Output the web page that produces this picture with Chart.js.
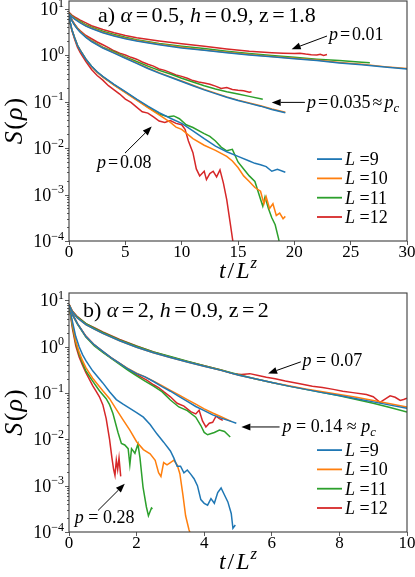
<!DOCTYPE html>
<html>
<head>
<meta charset="utf-8">
<script src="https://cdn.jsdelivr.net/npm/chart.js@4.4.1/dist/chart.umd.min.js"></script>
<style>
  html, body { margin: 0; padding: 0; background: #fff; }
  #wrap { position: relative; width: 415px; height: 577px; }
  canvas { position: absolute; left: 0; }
</style>
</head>
<body>
<div id="wrap">
  <canvas id="panelA" width="415" height="288" style="top:0"></canvas>
  <canvas id="panelB" width="415" height="289" style="top:288px"></canvas>
</div>
<script>
// system sizes and y tick labels (exponents of the decades)
const sizes = [9, 10, 11, 12];
const yDecades = [-4, -3, -2, -1, 0, 1];
const yTickLabels = ['\u22124', '\u22123', '\u22122', '\u22121', '0', '1'];
const xTicksA = [0, 5, 10, 15, 20, 25, 30];
const xTicksB = [0, 2, 4, 6, 8, 10];

// ---- panel a) alpha=0.5 : values are log10 S(rho) ----
// p = 0.01
const a01_t   = [0, 0.25, 0.5, 1, 1.5, 2, 3, 4, 5, 6, 8, 10, 12, 14, 16, 18, 20, 22, 24, 26, 28, 30];
const a01_L9  = [0.88, 0.82, 0.77, 0.69, 0.62, 0.57, 0.48, 0.41, 0.35, 0.30, 0.22, 0.15, 0.10, 0.05, 0.00, -0.04, -0.08, -0.12, -0.17, -0.21, -0.26, -0.30];
const a01_L10 = [0.89, 0.83, 0.78, 0.70, 0.63, 0.58, 0.49, 0.42, 0.36, 0.31, 0.23, 0.165, 0.11, 0.06, 0.01, -0.03, -0.07, -0.11, -0.16, -0.20, -0.25, -0.29];
const a01_t11 = [0, 0.25, 0.5, 1, 1.5, 2, 3, 4, 5, 6, 8, 10, 12, 14, 16, 18, 20, 22, 24, 26, 26.7];
const a01_L11 = [0.90, 0.84, 0.79, 0.72, 0.65, 0.60, 0.51, 0.44, 0.38, 0.33, 0.25, 0.19, 0.14, 0.08, 0.03, -0.01, -0.05, -0.09, -0.12, -0.155, -0.165];
const a01_t12 = [0, 0.25, 0.5, 1, 1.5, 2, 3, 4, 5, 6, 8, 10, 12, 14, 16, 17, 18, 19, 20, 20.5, 21, 21.5, 22, 22.3, 22.6, 22.9];
const a01_L12 = [0.92, 0.86, 0.82, 0.75, 0.69, 0.63, 0.55, 0.48, 0.42, 0.37, 0.30, 0.24, 0.19, 0.13, 0.08, 0.065, 0.05, 0.04, 0.03, 0.04, 0.02, 0.005, 0.0, 0.015, -0.01, 0.01];
// p = 0.035
const a035_t   = [0, 0.25, 0.5, 0.75, 1, 1.5, 2, 3, 4, 5, 6, 7, 8, 9, 10, 11, 12, 13, 14, 15, 16, 17, 18, 19.2];
const a035_L9  = [0.88, 0.74, 0.64, 0.56, 0.49, 0.38, 0.29, 0.15, 0.04, -0.07, -0.18, -0.29, -0.39, -0.48, -0.57, -0.66, -0.75, -0.83, -0.91, -0.98, -1.04, -1.10, -1.17, -1.24];
const a035_L10 = [0.89, 0.75, 0.65, 0.57, 0.50, 0.39, 0.30, 0.16, 0.05, -0.06, -0.17, -0.28, -0.38, -0.47, -0.56, -0.65, -0.74, -0.82, -0.90, -0.97, -1.03, -1.09, -1.16, -1.23];
const a035_t11 = [0, 0.25, 0.5, 0.75, 1, 1.5, 2, 3, 4, 5, 6, 7, 8, 9, 10, 11, 12, 13, 14, 15, 16, 17, 17.2];
const a035_L11 = [0.89, 0.75, 0.65, 0.57, 0.50, 0.39, 0.31, 0.17, 0.07, -0.04, -0.14, -0.24, -0.33, -0.41, -0.50, -0.58, -0.66, -0.73, -0.79, -0.84, -0.89, -0.94, -0.95];
const a035_t12 = [0, 0.25, 0.5, 0.75, 1, 1.5, 2, 2.5, 3, 3.5, 4, 4.5, 5, 5.5, 6, 6.5, 7, 7.5, 8, 8.5, 9, 9.5, 10, 10.5, 11, 11.5, 12, 12.5, 13, 13.5, 14, 14.5, 15, 15.5, 16, 16.2];
const a035_L12 = [0.90, 0.76, 0.66, 0.58, 0.52, 0.42, 0.35, 0.28, 0.22, 0.16, 0.09, 0.04, 0.0, -0.05, -0.09, -0.15, -0.2, -0.24, -0.3, -0.33, -0.38, -0.43, -0.46, -0.5, -0.55, -0.58, -0.6, -0.63, -0.67, -0.72, -0.70, -0.74, -0.76, -0.77, -0.80, -0.79];
// p = 0.08
const a08_t9   = [0, 0.1, 0.25, 0.5, 0.75, 1, 1.5, 2, 2.5, 3, 4, 5, 6, 7, 8, 9, 10, 11, 12, 13, 14, 15, 16, 16.5, 17, 17.5, 18, 18.5, 19.2];
const a08_L9   = [0.88, 0.7, 0.55, 0.37, 0.21, 0.1, -0.09, -0.24, -0.36, -0.46, -0.63, -0.79, -0.95, -1.1, -1.24, -1.36, -1.47, -1.63, -1.8, -1.96, -2.08, -2.18, -2.28, -2.33, -2.36, -2.4, -2.5, -2.46, -2.52];
const a08_t10  = [0, 0.1, 0.25, 0.5, 0.75, 1, 1.5, 2, 2.5, 3, 4, 5, 6, 7, 8, 9, 9.5, 10, 11, 12, 13, 14, 14.5, 15, 15.5, 16, 16.5, 17, 17.3, 17.5, 17.8, 18.1, 18.4, 18.7, 19.0, 19.2];
const a08_L10  = [0.89, 0.7, 0.55, 0.37, 0.21, 0.1, -0.09, -0.25, -0.37, -0.47, -0.65, -0.81, -0.97, -1.13, -1.29, -1.45, -1.55, -1.6, -1.8, -1.94, -2.05, -2.18, -2.28, -2.42, -2.6, -2.72, -2.85, -2.93, -3.2, -3.05, -3.3, -3.2, -3.45, -3.4, -3.52, -3.47];
const a08_t11  = [0, 0.1, 0.25, 0.5, 0.75, 1, 1.5, 2, 2.5, 3, 4, 5, 6, 7, 8, 8.8, 9.3, 9.8, 10.4, 11, 12, 12.5, 13, 13.5, 14, 14.5, 15, 15.5, 16, 16.5, 17, 17.2, 17.4, 17.7, 18, 18.3, 18.6, 18.8];
const a08_L11  = [0.88, 0.7, 0.55, 0.37, 0.21, 0.1, -0.09, -0.24, -0.37, -0.47, -0.64, -0.8, -0.96, -1.12, -1.27, -1.33, -1.31, -1.37, -1.5, -1.56, -1.69, -1.75, -1.85, -1.98, -2.06, -2.03, -2.3, -2.45, -2.6, -2.72, -3.1, -3.25, -3.05, -3.3, -3.5, -3.65, -3.95, -4.2];
const a08_t12  = [0, 0.1, 0.25, 0.5, 0.75, 1, 1.5, 2, 2.5, 3, 3.5, 4, 4.5, 5, 5.5, 6, 6.5, 7, 7.5, 8, 8.5, 9, 9.5, 10, 10.3, 10.6, 11, 11.3, 11.6, 12, 12.2, 12.5, 12.8, 13.1, 13.4, 13.7, 14, 14.3, 14.6];
const a08_L12  = [0.9, 0.7, 0.53, 0.34, 0.17, 0.05, -0.14, -0.31, -0.44, -0.54, -0.66, -0.75, -0.84, -0.95, -1.02, -1.12, -1.22, -1.25, -1.33, -1.42, -1.45, -1.41, -1.47, -1.5, -1.6, -1.85, -2.1, -2.45, -2.6, -2.5, -2.68, -2.55, -2.5, -2.62, -2.47, -2.75, -3.11, -3.6, -4.1];

// ---- panel b) alpha=2 ----
// p = 0.07
const b07_t   = [0, 0.1, 0.25, 0.5, 0.75, 1, 1.5, 2, 2.5, 3, 3.5, 4, 4.5, 5, 5.5, 6, 6.5, 7, 7.5, 8, 8.5, 9, 9.5, 10];
const b07_L9  = [0.9, 0.75, 0.62, 0.48, 0.38, 0.29, 0.13, -0.01, -0.13, -0.23, -0.33, -0.42, -0.51, -0.61, -0.69, -0.77, -0.85, -0.92, -0.99, -1.05, -1.12, -1.19, -1.26, -1.33];
const b07_L10 = [0.9, 0.75, 0.62, 0.48, 0.38, 0.29, 0.13, -0.01, -0.13, -0.23, -0.33, -0.42, -0.51, -0.61, -0.69, -0.77, -0.84, -0.91, -0.97, -1.03, -1.09, -1.16, -1.23, -1.30];
const b07_L11 = [0.91, 0.76, 0.64, 0.5, 0.4, 0.31, 0.15, 0.01, -0.11, -0.21, -0.31, -0.41, -0.5, -0.6, -0.69, -0.77, -0.85, -0.92, -0.99, -1.06, -1.14, -1.22, -1.31, -1.41];
const b07_t12 = [0, 0.1, 0.25, 0.5, 0.75, 1, 1.5, 2, 2.5, 3, 3.5, 4, 4.5, 4.85, 5.1, 5.35, 5.6, 5.84, 6.1, 6.4, 6.83, 7.2, 7.5, 7.82, 8.1, 8.4, 8.8, 9.0, 9.2, 9.35, 9.5, 9.65, 9.8, 9.9, 10];
const b07_L12 = [0.92, 0.77, 0.65, 0.5, 0.41, 0.32, 0.16, 0.02, -0.11, -0.22, -0.32, -0.41, -0.5, -0.58, -0.6, -0.58, -0.62, -0.66, -0.69, -0.74, -0.8, -0.85, -0.88, -0.92, -0.96, -0.99, -1.03, -1.08, -1.2, -1.13, -1.06, -1.09, -1.16, -1.14, -1.11];
// p = 0.14
const b14_t9  = [0, 0.1, 0.25, 0.5, 0.75, 1, 1.25, 1.5, 1.75, 2, 2.25, 2.5, 2.75, 3, 3.25, 3.5, 3.75, 4, 4.25, 4.5, 4.75, 4.95];
const b14_L9  = [0.9, 0.7, 0.5, 0.22, 0.04, -0.1, -0.24, -0.36, -0.48, -0.58, -0.65, -0.75, -0.86, -0.96, -1.07, -1.18, -1.29, -1.38, -1.47, -1.54, -1.6, -1.65];
const b14_t10 = [0, 0.1, 0.25, 0.5, 0.75, 1, 1.25, 1.5, 1.75, 2, 2.25, 2.5, 2.75, 3, 3.25, 3.5, 3.75, 4, 4.25, 4.5, 4.8];
const b14_L10 = [0.9, 0.7, 0.5, 0.22, 0.04, -0.1, -0.24, -0.36, -0.47, -0.57, -0.65, -0.74, -0.84, -0.94, -1.04, -1.14, -1.24, -1.34, -1.43, -1.51, -1.61];
const b14_t11 = [0, 0.1, 0.25, 0.5, 0.75, 1, 1.25, 1.5, 1.75, 2, 2.25, 2.5, 2.75, 3, 3.25, 3.5, 3.75, 3.9, 4.0, 4.1, 4.3, 4.45, 4.6, 4.77];
const b14_L11 = [0.9, 0.7, 0.49, 0.21, 0.02, -0.12, -0.25, -0.38, -0.51, -0.63, -0.74, -0.85, -0.97, -1.15, -1.3, -1.38, -1.52, -1.7, -1.85, -1.9, -1.85, -1.8, -1.83, -1.95];
const b14_t12 = [0, 0.1, 0.25, 0.5, 0.75, 1, 1.25, 1.5, 1.75, 2, 2.15, 2.3, 2.5, 2.65, 2.8, 3.0, 3.2, 3.4, 3.6, 3.75, 3.85, 3.95, 4.05, 4.15, 4.25, 4.35, 4.45, 4.55];
const b14_L12 = [0.92, 0.71, 0.5, 0.23, 0.04, -0.11, -0.24, -0.36, -0.49, -0.6, -0.66, -0.72, -0.82, -0.88, -0.97, -1.08, -1.22, -1.28, -1.4, -1.45, -1.37, -1.6, -1.73, -1.65, -1.63, -1.5, -1.55, -1.59];
// p = 0.28
const b28_t9  = [0, 0.1, 0.2, 0.3, 0.4, 0.5, 0.7, 1.0, 1.2, 1.4, 1.6, 1.8, 2.0, 2.2, 2.4, 2.6, 2.8, 3.0, 3.1, 3.2, 3.3, 3.4, 3.5, 3.6, 3.7, 3.8, 3.9, 4.0, 4.1, 4.2, 4.3, 4.4, 4.5, 4.6, 4.7, 4.8, 4.85, 4.92];
const b28_L9  = [0.9, 0.55, 0.22, 0.0, -0.17, -0.3, -0.52, -0.78, -0.97, -1.14, -1.24, -1.33, -1.42, -1.52, -1.68, -1.88, -2.06, -2.25, -2.4, -2.58, -2.58, -2.72, -2.66, -2.75, -2.85, -3.0, -3.3, -3.38, -3.42, -3.28, -3.38, -3.15, -3.05, -3.2, -3.35, -3.6, -3.92, -3.85];
const b28_t10 = [0, 0.1, 0.2, 0.3, 0.4, 0.5, 0.7, 1.0, 1.2, 1.4, 1.6, 1.8, 2.0, 2.2, 2.4, 2.55, 2.65, 2.72, 2.8, 2.9, 3.0, 3.1, 3.2, 3.28, 3.37, 3.45, 3.55, 3.62];
const b28_L10 = [0.9, 0.5, 0.12, -0.12, -0.3, -0.45, -0.68, -0.95, -1.12, -1.35, -1.58, -1.8, -2.05, -2.22, -2.31, -2.45, -2.72, -2.8, -2.5, -2.55, -2.5, -2.45, -2.55, -2.74, -3.2, -3.65, -3.95, -4.1];
const b28_t11 = [0, 0.1, 0.2, 0.3, 0.4, 0.5, 0.7, 0.9, 1.1, 1.2, 1.3, 1.45, 1.55, 1.65, 1.75, 1.8, 1.85, 1.95, 2.04, 2.1, 2.19, 2.29, 2.35, 2.44, 2.47];
const b28_L11 = [0.9, 0.45, 0.08, -0.16, -0.35, -0.52, -0.74, -0.95, -1.12, -1.25, -1.44, -1.85, -2.09, -2.12, -2.2, -2.55, -2.2, -2.3, -2.1, -2.4, -3.03, -3.46, -3.65, -3.48, -3.5];
const b28_t12 = [0, 0.1, 0.2, 0.3, 0.4, 0.5, 0.6, 0.7, 0.8, 0.9, 1.0, 1.1, 1.2, 1.27, 1.32, 1.36, 1.4, 1.44, 1.48, 1.53];
const b28_L12 = [0.92, 0.4, 0.02, -0.22, -0.4, -0.56, -0.7, -0.84, -0.96, -1.08, -1.25, -1.55, -2.0, -2.4, -2.65, -2.78, -2.45, -2.65, -2.4, -2.8];

const lineColors = ['#1f77b4', '#ff7f0e', '#2ca02c', '#d62728'];
const SERIF = '"Liberation Serif", "DejaVu Serif", serif';

function curve(t, logS) {
    return t.map((x, i) => ({ x: x, y: Math.pow(10, logS[i]) }));
}

function makeDatasets(groups) {
    const out = [];
    groups.forEach(g => {
        g.forEach((c, k) => {
            out.push({
                label: 'L =' + sizes[k],
                data: curve(c[0], c[1]),
                borderColor: lineColors[k],
                borderWidth: 1.5,
                pointRadius: 0,
                fill: false,
                tension: 0
            });
        });
    });
    return out;
}

// draw text made of pieces: [text, style] or a number (extra gap in px)
function drawRich(ctx, x, y, parts, size, dry) {
    const x0 = x;
    parts.forEach(p => {
        if (typeof p === 'number') { x += p; return; }
        const txt = p[0], st = p[1];
        let fs = size, dy = 0;
        if (st === 'sub') { fs = size * 0.7; dy = size * 0.22; }
        if (st === 'sup') { fs = size * 0.7; dy = -size * 0.42; }
        const it = st !== 'r';
        ctx.font = (it ? 'italic ' : '') + fs + 'px ' + SERIF;
        if (!dry) ctx.fillText(txt, x, y + dy);
        x += ctx.measureText(txt).width;
    });
    return x - x0;
}

function arrow(ctx, x1, y1, x2, y2) {
    const a = Math.atan2(y2 - y1, x2 - x1), hl = 9, hw = 3.5;
    const bx = x2 - hl * Math.cos(a), by = y2 - hl * Math.sin(a);
    ctx.beginPath(); ctx.moveTo(x1, y1); ctx.lineTo(bx, by); ctx.stroke();
    ctx.beginPath();
    ctx.moveTo(x2, y2);
    ctx.lineTo(bx + hw * Math.sin(a), by - hw * Math.cos(a));
    ctx.lineTo(bx - hw * Math.sin(a), by + hw * Math.cos(a));
    ctx.closePath();
    ctx.fill();
}

const decor = {
    id: 'decor',
    afterDraw(chart, args, o) {
        const ctx = chart.ctx, a = chart.chartArea;
        const xs = chart.scales.x, ys = chart.scales.y;
        const px = v => xs.getPixelForValue(v), py = v => ys.getPixelForValue(v);
        ctx.save();
        ctx.textAlign = 'left';
        ctx.textBaseline = 'alphabetic';

        // frame
        ctx.strokeStyle = '#3c3c3c';
        ctx.lineWidth = 1.1;
        ctx.strokeRect(a.left, a.top, a.right - a.left, a.bottom - a.top);

        // log ticks on y, with labels 10^n
        ctx.strokeStyle = '#333';
        ctx.lineWidth = 0.8;
        ctx.fillStyle = '#000';
        yDecades.forEach((e, i) => {
            for (let k = 1; k <= 9; k++) {
                const v = k * Math.pow(10, e);
                if (v < ys.min || v > ys.max) continue;
                const yy = Math.round(py(v)) + 0.5;
                const len = k === 1 ? 4 : 2;
                ctx.beginPath(); ctx.moveTo(a.left - len, yy); ctx.lineTo(a.left, yy); ctx.stroke();
            }
            const yy = py(Math.pow(10, e));
            ctx.font = '12px ' + SERIF;
            const ew = ctx.measureText(yTickLabels[i]).width;
            ctx.font = '18px ' + SERIF;
            const bw = ctx.measureText('10').width;
            const right = a.left - 5;
            ctx.fillText('10', right - ew - bw, yy + 6);
            ctx.font = '12px ' + SERIF;
            ctx.fillText(yTickLabels[i], right - ew, yy - 1.5);
        });

        // axis titles
        const xt = [['t', 'i'], 2, ['/', 'r'], 2, ['L', 'i'], 1, ['z', 'sup']];
        const wx = drawRich(ctx, 0, 0, xt, 24, true);
        drawRich(ctx, (a.left + a.right) / 2 - wx / 2, a.bottom + 37, xt, 24);
        ctx.save();
        ctx.translate(22, (a.top + a.bottom) / 2);
        ctx.rotate(-Math.PI / 2);
        const yt = [['S', 'i'], 1.5, ['(', 'r'], 1, ['\u03c1', 'i'], 1, [')', 'r']];
        const wy = drawRich(ctx, 0, 0, yt, 26, true);
        drawRich(ctx, -wy / 2, 0, yt, 26);
        ctx.restore();

        // panel title
        drawRich(ctx, a.left + o.title.dx, a.top + o.title.dy, o.title.parts, 22);

        // annotations with arrows
        ctx.strokeStyle = '#000';
        ctx.lineWidth = 1;
        o.notes.forEach(n => {
            drawRich(ctx, px(n.x), py(n.y), n.parts, 18);
            const r = n.arrow;
            arrow(ctx, px(r[0]), py(r[1]), px(r[2]), py(r[3]));
        });

        // legend
        sizes.forEach((L, k) => {
            const yy = a.bottom - 24 - (sizes.length - 1 - k) * 19.3;
            ctx.strokeStyle = lineColors[k];
            ctx.lineWidth = 1.8;
            ctx.beginPath(); ctx.moveTo(a.right - 90, yy); ctx.lineTo(a.right - 65, yy); ctx.stroke();
            ctx.fillStyle = '#000';
            drawRich(ctx, a.right - 62, yy + 6, [['L', 'i'], [' =' + L, 'r']], 18);
        });
        ctx.restore();
    }
};

function makeChart(id, datasets, xTicks, xMax, deco, padTop, bottomGap) {
    return new Chart(document.getElementById(id), {
        type: 'line',
        data: { datasets: datasets },
        options: {
            responsive: false,
            animation: false,
            devicePixelRatio: 1,
            layout: { padding: { left: 0, right: 8, top: padTop, bottom: 0 } },
            plugins: {
                legend: { display: false },
                tooltip: { enabled: false },
                decor: deco
            },
            scales: {
                x: {
                    type: 'linear',
                    min: 0,
                    max: xMax,
                    afterBuildTicks: s => { s.ticks = xTicks.map(v => ({ value: v })); },
                    afterFit: s => { s.height = bottomGap; },
                    grid: { drawOnChartArea: false, tickLength: 4, tickColor: '#333', lineWidth: 0.8 },
                    border: { display: false },
                    ticks: { font: { family: SERIF, size: 17 }, color: '#000', padding: -3, maxRotation: 0 }
                },
                y: {
                    type: 'logarithmic',
                    min: 1e-4,
                    max: 14.5,
                    afterFit: s => { s.width = 69; },
                    grid: { display: false },
                    border: { display: false },
                    ticks: { display: false }
                }
            }
        },
        plugins: [decor]
    });
}

const G = 3.5;
makeChart('panelA', makeDatasets([
    [[a01_t, a01_L9], [a01_t, a01_L10], [a01_t11, a01_L11], [a01_t12, a01_L12]],
    [[a035_t, a035_L9], [a035_t, a035_L10], [a035_t11, a035_L11], [a035_t12, a035_L12]],
    [[a08_t9, a08_L9], [a08_t10, a08_L10], [a08_t11, a08_L11], [a08_t12, a08_L12]]
]), xTicksA, 30, {
    title: { dx: 29, dy: 21, parts: [['a) ', 'r'], ['\u03b1', 'i'], G, ['=', 'r'], G, ['0.5, ', 'r'], ['h', 'i'], G, ['=', 'r'], G, ['0.9, z', 'r'], G, ['=', 'r'], G, ['1.8', 'r']] },
    notes: [
        { x: 23.07, y: 2.1, parts: [['p', 'i'], 2, ['=', 'r'], 2, ['0.01', 'r']], arrow: [22.9, 2.56, 19.76, 1.33] },
        { x: 21.12, y: 0.0729, parts: [['p', 'i'], 2, ['=', 'r'], 2, ['0.035', 'r'], 2, ['\u2248', 'r'], 2, ['p', 'i'], ['c', 'sub']], arrow: [20.94, 0.0957, 17.99, 0.0957] },
        { x: 2.48, y: 0.00371, parts: [['p', 'i'], 2, ['=', 'r'], 2, ['0.08', 'r']], arrow: [4.97, 0.00778, 7.34, 0.0289] }
    ]
}, 1, 47);

makeChart('panelB', makeDatasets([
    [[b07_t, b07_L9], [b07_t, b07_L10], [b07_t, b07_L11], [b07_t12, b07_L12]],
    [[b14_t9, b14_L9], [b14_t10, b14_L10], [b14_t11, b14_L11], [b14_t12, b14_L12]],
    [[b28_t9, b28_L9], [b28_t10, b28_L10], [b28_t11, b28_L11], [b28_t12, b28_L12]]
]), xTicksB, 10, {
    title: { dx: 14, dy: 24, parts: [['b) ', 'r'], ['\u03b1', 'i'], G, ['=', 'r'], G, ['2, ', 'r'], ['h', 'i'], G, ['=', 'r'], G, ['0.9, z', 'r'], G, ['=', 'r'], G, ['2', 'r']] },
    notes: [
        { x: 6.91, y: 0.382, parts: [['p', 'i'], [' = 0.07', 'r']], arrow: [6.86, 0.473, 5.89, 0.265] },
        { x: 6.32, y: 0.01445, parts: [['p', 'i'], [' = 0.14 \u2248 ', 'r'], ['p', 'i'], ['c', 'sub']], arrow: [6.23, 0.01855, 5.1, 0.01855] },
        { x: 0.17, y: 0.000155, parts: [['p', 'i'], [' = 0.28', 'r']], arrow: [0.86, 0.000292, 1.65, 0.0011] }
    ]
}, 5, 45);
</script>
</body>
</html>
